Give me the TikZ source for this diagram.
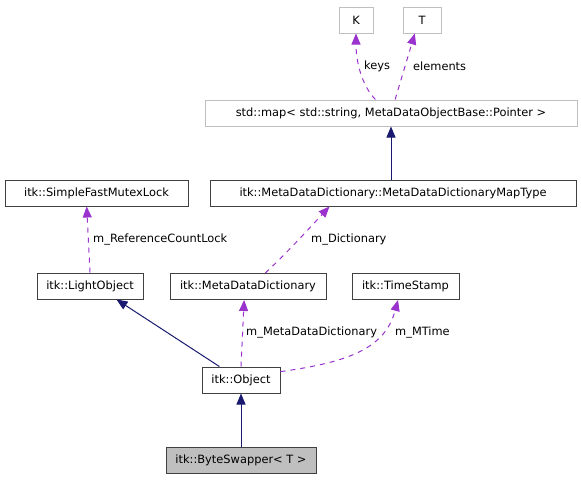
\documentclass[tikz,border=0pt]{standalone}
\usepackage{fontspec}
\setmainfont{DejaVu Sans}
\usepackage{tikz}
\usetikzlibrary{arrows.meta}

\definecolor{edgeblue}{HTML}{191970}
\definecolor{edgepurple}{HTML}{9A32CD}
\definecolor{boxgray}{HTML}{BFBFBF}

\tikzset{
  cls/.style={draw=black!75, line width=1pt, minimum height=26pt, inner sep=0pt,
    font=\fontsize{11.4}{13}\selectfont},
  tmpl/.style={cls, draw=boxgray},
  inherit/.style={edgeblue, line width=1pt, -{Triangle[length=11pt,width=9pt]}},
  usage/.style={edgepurple, line width=1pt, dash pattern=on 5pt off 5pt,
    -{Triangle[length=11pt,width=9pt]}},
  lbl/.style={anchor=west, inner sep=0pt, font=\fontsize{11.4}{13}\selectfont}
}

\begin{document}
\begin{tikzpicture}[x=1pt,y=-1pt]
  \useasboundingbox (0,0) rectangle (581,480);

  % Classes
  \node[tmpl, minimum width=34pt]  (K)       at (356,20)    {K};
  \node[tmpl, minimum width=38pt]  (T)       at (422,20)    {T};
  \node[tmpl, minimum width=372pt] (map)     at (391,113)   {std::map< std::string, MetaDataObjectBase::Pointer >};
  \node[cls, minimum width=366pt]  (maptype) at (393,193)   {itk::MetaDataDictionary::MetaDataDictionaryMapType};
  \node[cls, minimum width=183pt]  (mutex)   at (96.5,193)  {itk::SimpleFastMutexLock};
  \node[cls, minimum width=106pt]  (light)   at (90,286)    {itk::LightObject};
  \node[cls, minimum width=156pt]  (mdd)     at (248,286.5) {itk::MetaDataDictionary};
  \node[cls, minimum width=107pt]  (ts)      at (405.5,286.5) {itk::TimeStamp};
  \node[cls, minimum width=78pt]   (obj)     at (241,380)   {itk::Object};
  \node[cls, minimum width=150pt, fill=boxgray] (bs) at (241,460) {itk::ByteSwapper< T >};

  % Inheritance
  \draw[inherit] (map.south |- maptype.north) -- (map.south);
  \draw[inherit] (obj.148) -- (light.-27);
  \draw[inherit] (bs.north) -- (obj.south);

  % Members
  \draw[usage] (map.139) .. controls (362,86) and (356,62) .. (K.south);
  \draw[usage] (map.73) -- (T.-118);
  \draw[usage] (light.north) -- (mutex.-126);
  \draw[usage] (mdd.38) .. controls (290,250) and (315,222) .. (maptype.-168);
  \draw[usage] (obj.north) -- (mdd.-106);
  \draw[usage] (obj.12) .. controls (350,362) and (385,348) .. (ts.-119);

  % Labels
  \node[lbl] (lkeys)  at (364,66)  {keys};
  \node[lbl] (lelem)  at (413,66)  {elements};
  \node[lbl] (lref)   at (93,239.5)  {m\_ReferenceCountLock};
  \node[lbl] (ldict)  at (311,239.5) {m\_Dictionary};
  \node[lbl] (lmdd)   at (246,333) {m\_MetaDataDictionary};
  \node[lbl] (lmtime) at (395,333) {m\_MTime};
\end{tikzpicture}
\end{document}
